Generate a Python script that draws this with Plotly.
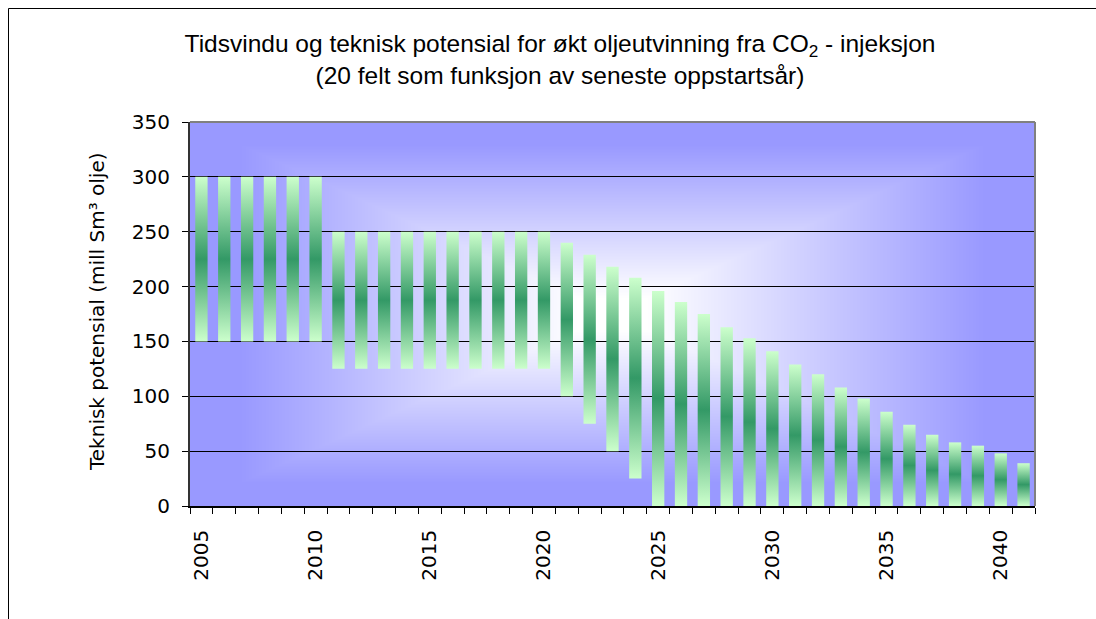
import base64
import struct
import zlib

import numpy as np
import plotly.graph_objects as go

# Latest start-up year for the 20 fields
years = [2005, 2006, 2007, 2008, 2009, 2010, 2011, 2012, 2013, 2014, 2015, 2016,
         2017, 2018, 2019, 2020, 2021, 2022, 2023, 2024, 2025, 2026, 2027, 2028,
         2029, 2030, 2031, 2032, 2033, 2034, 2035, 2036, 2037, 2038, 2039, 2040, 2041]

# Technical potential window (mill Sm3 oil): lower and upper bounds
potential_low = [150, 150, 150, 150, 150, 150, 125, 125, 125, 125, 125, 125,
                 125, 125, 125, 125, 100, 75, 50, 25, 0, 0, 0, 0,
                 0, 0, 0, 0, 0, 0, 0, 0, 0, 0, 0, 0, 0]
potential_high = [300, 300, 300, 300, 300, 300, 250, 250, 250, 250, 250, 250,
                  250, 250, 250, 250, 240, 229, 218, 208, 196, 186, 175, 163,
                  153, 141, 129, 120, 108, 98, 86, 74, 65, 58, 55, 48, 39]

label_years = [2005, 2010, 2015, 2020, 2025, 2030, 2035, 2040]

W, H = 1096, 619
M_L, M_R, M_T, M_B = 190, 61, 122, 113
PW, PH = W - M_L - M_R, H - M_T - M_B

FONT_NUM = "DejaVu Sans"
FONT_TXT = "Liberation Sans, Arial, sans-serif"


def px_x(px):
    return (px - M_L) / PW


def px_y(py):
    return 1 - (py - M_T) / PH


def png_data_uri(rgb):
    h, w, _ = rgb.shape
    raw = b"".join(b"\x00" + rgb[r].tobytes() for r in range(h))

    def chunk(tag, data):
        return (struct.pack(">I", len(data)) + tag + data
                + struct.pack(">I", zlib.crc32(tag + data) & 0xFFFFFFFF))

    png = (b"\x89PNG\r\n\x1a\n"
           + chunk(b"IHDR", struct.pack(">IIBBBBB", w, h, 8, 2, 0, 0, 0))
           + chunk(b"IDAT", zlib.compress(raw, 9))
           + chunk(b"IEND", b""))
    return "data:image/png;base64," + base64.b64encode(png).decode()


# "From centre" rectangular shading: white in the middle, periwinkle at the edges
u = (np.arange(PW) + 0.5) / PW
v = (np.arange(PH) + 0.5) / PH
uu, vv = np.meshgrid(u, v)
t = np.maximum(np.abs(uu - 0.5) / 0.5, np.abs(vv - 0.5) / 0.5)
s = np.clip((t - 0.08) / 0.8, 0, 1)
white = np.array([255, 255, 255], dtype=float)
edge = np.array([153, 153, 255], dtype=float)
bg = (white[None, None, :] * (1 - s[..., None]) + edge[None, None, :] * s[..., None])
bg = np.clip(np.round(bg), 0, 255).astype(np.uint8)

fig = go.Figure()

half_w = 0.27
bar_scale = [[0.0, "#ccffcc"], [0.5, "#339966"], [1.0, "#ccffcc"]]
for yr, lo, hi in zip(years, potential_low, potential_high):
    fig.add_trace(go.Scatter(
        x=[yr - half_w, yr + half_w, yr + half_w, yr - half_w, yr - half_w],
        y=[lo, lo, hi, hi, lo],
        mode="lines",
        fill="toself",
        fillgradient=dict(type="vertical", colorscale=bar_scale),
        line=dict(width=0, color="rgba(0,0,0,0)"),
        hoverinfo="skip",
        showlegend=False,
    ))

fig.update_layout(
    width=W, height=H,
    margin=dict(l=M_L, r=M_R, t=M_T, b=M_B),
    paper_bgcolor="white",
    plot_bgcolor="#9999ff",
    showlegend=False,
    title=dict(
        text=("Tidsvindu og teknisk potensial for økt oljeutvinning fra CO<sub>2</sub> - injeksjon"
              "<br>(20 felt som funksjon av seneste oppstartsår)"),
        font=dict(family=FONT_TXT, size=24.5, color="black"),
        x=560 / W, xanchor="center",
        y=1 - 52 / H, yanchor="top",
    ),
    images=[dict(
        source=png_data_uri(bg),
        xref="paper", yref="paper",
        x=0, y=1, sizex=1, sizey=1,
        xanchor="left", yanchor="top",
        sizing="stretch", layer="below",
    )],
    xaxis=dict(
        range=[2004.5, 2041.5],
        tickmode="array",
        tickvals=label_years,
        ticktext=[str(y) for y in label_years],
        tickangle=-90,
        ticks="",
        ticklabelstandoff=14,
        tickfont=dict(family=FONT_NUM, size=20, color="black"),
        showgrid=False,
        zeroline=False,
        showline=True, linecolor="black", linewidth=1.5,
        minor=dict(tick0=2004.5, dtick=1, ticks="outside", ticklen=6,
                   tickcolor="black", tickwidth=1, showgrid=False),
    ),
    yaxis=dict(
        range=[0, 350],
        tickmode="linear", tick0=0, dtick=50,
        ticks="outside", ticklen=6, tickcolor="black",
        ticklabelstandoff=8,
        tickfont=dict(family=FONT_NUM, size=20, color="black"),
        showgrid=True, gridcolor="black", gridwidth=1,
        zeroline=False,
        showline=True, linecolor="#333333", linewidth=2,
    ),
    annotations=[dict(
        text="Teknisk potensial (mill Sm³ olje)",
        textangle=-90,
        xref="paper", yref="paper",
        x=px_x(97), y=px_y(312),
        xanchor="center", yanchor="middle",
        showarrow=False,
        font=dict(family=FONT_NUM, size=20, color="black"),
    )],
    shapes=[
        # plot-area frame on the top and right
        dict(type="line", xref="paper", yref="paper", x0=0, x1=1, y0=1, y1=1,
             line=dict(color="#808080", width=2)),
        dict(type="line", xref="paper", yref="paper", x0=1, x1=1, y0=0, y1=1,
             line=dict(color="#808080", width=2)),
        # chart-area frame
        dict(type="line", xref="paper", yref="paper",
             x0=px_x(8.5), x1=px_x(W + 5), y0=px_y(8.5), y1=px_y(8.5),
             line=dict(color="black", width=1)),
        dict(type="line", xref="paper", yref="paper",
             x0=px_x(8.5), x1=px_x(8.5), y0=px_y(8.5), y1=px_y(H + 5),
             line=dict(color="black", width=1)),
    ],
)

fig.write_html("out.html")
